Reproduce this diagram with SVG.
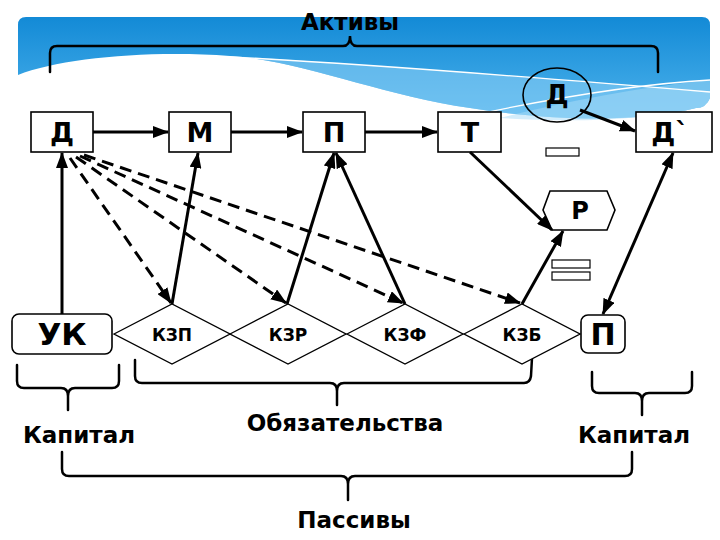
<svg xmlns="http://www.w3.org/2000/svg" width="720" height="540" viewBox="0 0 720 540">
<defs>
<linearGradient id="sky" x1="0" y1="0" x2="0" y2="1">
<stop offset="0" stop-color="#138ad6"/>
<stop offset="1" stop-color="#4db3ec"/>
</linearGradient>
<marker id="ah" markerUnits="userSpaceOnUse" markerWidth="16" markerHeight="12" refX="15" refY="6" orient="auto-start-reverse" viewBox="0 0 16 12">
<path d="M0,0 L16,6 L0,12 z" fill="#000"/>
</marker>
<style>
.box{fill:#fff;stroke:#000;stroke-width:1.6}
.dia{fill:#fff;stroke:#000;stroke-width:1.4}
.lbl{font-family:"DejaVu Sans",sans-serif;font-weight:bold;text-anchor:middle;fill:#000}
.cap{font-family:"DejaVu Sans",sans-serif;font-weight:bold;text-anchor:middle;fill:#000;font-size:23px}
.ln{stroke:#000;stroke-width:3;fill:none;marker-end:url(#ah)}
.dash{stroke:#000;stroke-width:3;fill:none;stroke-dasharray:12 7;marker-end:url(#ah)}
.br{stroke:#000;stroke-width:2.5;fill:none;stroke-linecap:round}
</style>
</defs>
<rect width="720" height="540" fill="#fff"/>
<g id="background">
<path d="M26,17 H702 Q710,17 710,25 V98 Q706,108 696,108 C640,122 560,122 470,108 C380,95 300,60 230,56 C150,50 60,58 18,75 V25 Q18,17 26,17 Z" fill="url(#sky)"/>
<path d="M230,56 C330,62 520,76 710,92 V98 Q706,108 696,108 C640,122 560,122 470,108 C380,95 300,60 230,56 Z" fill="#8ed0f5" opacity="0.55"/>
<path d="M500,118 C580,98 650,86 710,80 V98 Q706,108 696,108 C640,122 560,122 500,118 Z" fill="#a8dcf7" opacity="0.5"/>
<path d="M230,57 C330,62 520,76 710,92" stroke="#fff" stroke-width="1.3" fill="none"/>
<path d="M450,120 C560,96 640,84 710,80" stroke="#fff" stroke-width="1.3" fill="none"/>
</g>
<g id="braces">
<path class="br" d="M50,72 V53 Q50,46 57,46 H343 Q350,46 350,36 Q350,46 357,46 H651 Q658,46 658,53 V72"/>
<path class="br" d="M17,365 V381 Q17,388 24,388 H61 Q68,388 68,396 V410 M68,396 Q68,388 75,388 H112 Q119,388 119,381 V365"/>
<path class="br" d="M135,360 V376 Q135,383 142,383 H330 Q337,383 337,391 V405 M337,391 Q337,383 344,383 H524 Q530,383 531,376 L532,358"/>
<path class="br" d="M592,372 V386 Q592,393 599,393 H635 Q642,393 642,401 V415 M642,401 Q642,393 649,393 H685 Q692,393 692,386 V372"/>
<path class="br" d="M62,452 V469 Q62,476 69,476 H341 Q348,476 348,484 V500 M348,484 Q348,476 355,476 H625 Q632,476 632,469 V452"/>
</g>
<g id="labels">
<text class="cap" x="350" y="30">Активы</text>
<text class="cap" x="79" y="443">Капитал</text>
<text class="cap" x="345" y="431">Обязательства</text>
<text class="cap" x="634" y="443">Капитал</text>
<text class="cap" x="354" y="528">Пассивы</text>
</g>
<g id="node-D"><rect class="box" x="31" y="112" width="62" height="40"/><text class="lbl" x="62" y="142" font-size="27">Д</text></g>
<g id="node-M"><rect class="box" x="169" y="112" width="62" height="40"/><text class="lbl" x="200" y="142" font-size="27">М</text></g>
<g id="node-P"><rect class="box" x="303" y="112" width="62" height="40"/><text class="lbl" x="334" y="142" font-size="27">П</text></g>
<g id="node-T"><rect class="box" x="438" y="112" width="63" height="40"/><text class="lbl" x="470" y="142" font-size="27">Т</text></g>
<g id="node-D2"><rect class="box" x="636" y="112" width="76" height="40"/><text class="lbl" x="670" y="142" font-size="27">Д`</text></g>
<g id="node-Dc"><ellipse cx="557" cy="95" rx="34" ry="27" fill="none" stroke="#000" stroke-width="1.6"/><text class="lbl" x="557" y="104" font-size="26">Д</text></g>
<g id="minus"><rect x="546" y="148" width="33" height="8" fill="#fff" stroke="#000" stroke-width="1.2"/></g>
<g id="node-R"><polygon class="box" points="543,210 550,191 607,191 615,210 607,230 552,230"/><text class="lbl" x="580" y="219" font-size="24">Р</text></g>
<g id="equals"><rect x="552" y="260" width="38" height="8" fill="#fff" stroke="#000" stroke-width="1.2"/><rect x="552" y="272" width="38" height="8" fill="#fff" stroke="#000" stroke-width="1.2"/></g>
<g id="node-UK"><rect class="box" x="12" y="314" width="100" height="40" rx="7"/><text class="lbl" x="62" y="345" font-size="31">УК</text></g>
<g id="node-KZP"><polygon class="dia" points="114,334 172,304 230,334 172,364"/><text class="lbl" x="172" y="341" font-size="17">КЗП</text></g>
<g id="node-KZR"><polygon class="dia" points="230,334 288,304 346,334 288,364"/><text class="lbl" x="288" y="341" font-size="17">КЗР</text></g>
<g id="node-KZF"><polygon class="dia" points="347,334 405,304 463,334 405,364"/><text class="lbl" x="405" y="341" font-size="17">КЗФ</text></g>
<g id="node-KZB"><polygon class="dia" points="464,334 522,304 580,334 522,364"/><text class="lbl" x="522" y="341" font-size="17">КЗБ</text></g>
<g id="node-P2"><rect class="box" x="581" y="315" width="44" height="38" rx="7"/><text class="lbl" x="603" y="345" font-size="30">П</text></g>
<g id="connectors">
<line class="ln" x1="93" y1="132" x2="168" y2="132"/>
<line class="ln" x1="231" y1="132" x2="302" y2="132"/>
<line class="ln" x1="365" y1="132" x2="437" y2="132"/>
<line class="ln" x1="580" y1="110" x2="635" y2="131"/>
<line class="ln" x1="470" y1="152" x2="552" y2="230"/>
<line class="ln" x1="603" y1="314" x2="673" y2="153" marker-start="url(#ah)"/>
<line class="ln" x1="62" y1="314" x2="62" y2="153"/>
<line class="ln" x1="172" y1="304" x2="198" y2="153"/>
<line class="ln" x1="287" y1="304" x2="334" y2="153"/>
<line class="ln" x1="405" y1="304" x2="336" y2="153"/>
<line class="ln" x1="522" y1="304" x2="563" y2="231"/>
<line class="dash" x1="70" y1="158" x2="171" y2="303"/>
<line class="dash" x1="76" y1="157" x2="286" y2="303"/>
<line class="dash" x1="80" y1="156" x2="403" y2="303"/>
<line class="dash" x1="84" y1="155" x2="520" y2="303"/>
</g>
</svg>
